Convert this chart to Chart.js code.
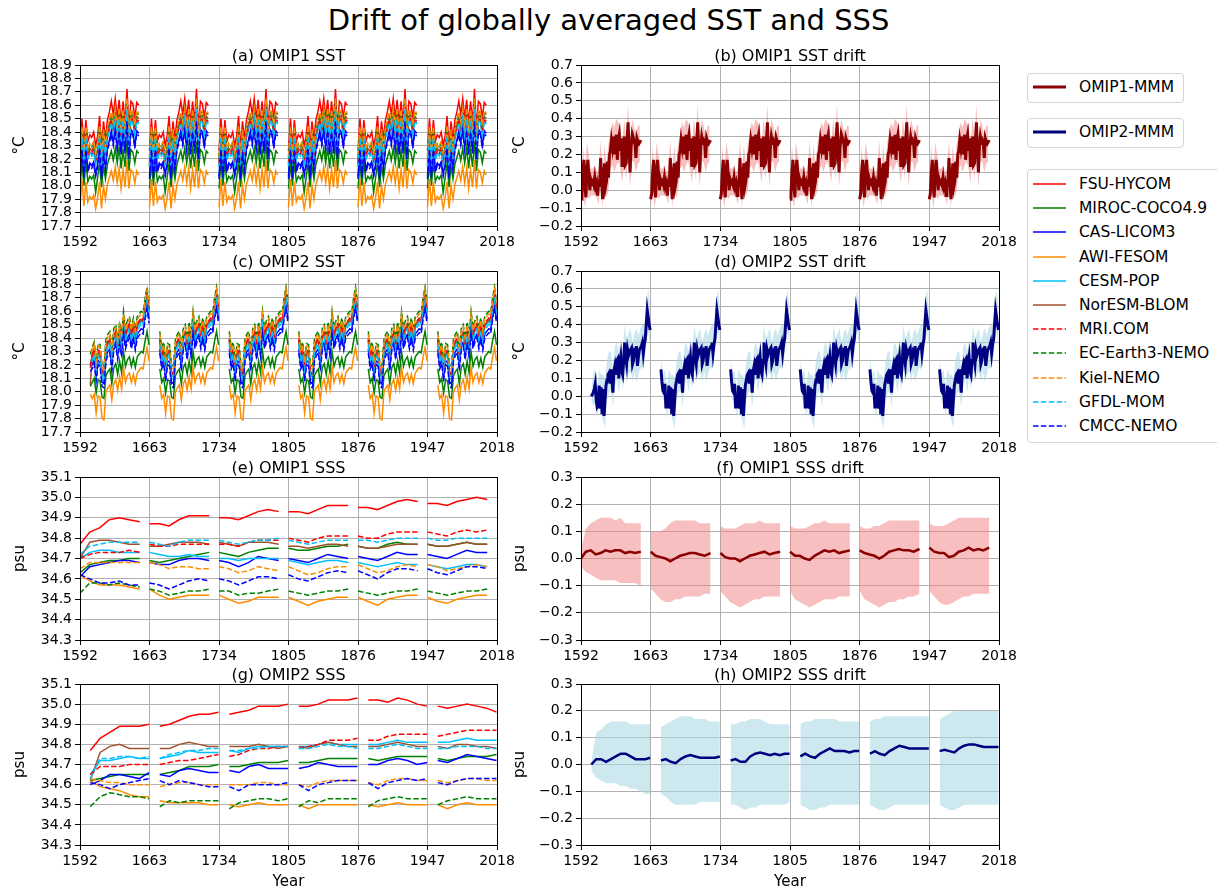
<!DOCTYPE html>
<html>
<head>
<meta charset="utf-8">
<script src="https://cdn.jsdelivr.net/npm/chart.js@4.4.1/dist/chart.umd.min.js"></script>
<style>
  body { margin: 0; background: #fff; width: 1217px; height: 892px; overflow: hidden; position: relative; font-family: "DejaVu Sans", sans-serif; }
  canvas { position: absolute; }
  #title { position: absolute; left: 0; top: 3px; width: 1217px; text-align: center; font-size: 29px; line-height: 34px; color: #000; }
  .lg { position: absolute; border: 1px solid #d4d4d4; border-radius: 4px; background: #fff; box-sizing: border-box; }
  .item { position: absolute; left: 0; height: 20px; width: 100%; font-size: 15.5px; line-height: 20px; color: #000; }
  .item svg { position: absolute; left: 5px; top: 0; }
  .item .t { position: absolute; left: 51px; top: 0; white-space: nowrap; }
</style>
</head>
<body>
<div id="title">Drift of globally averaged SST and SSS</div>
<div id="legends"></div>

<script>
// ====== Axes ======
const yearTicks = [1592, 1663, 1734, 1805, 1876, 1947, 2018];
const sstTicks = [17.7, 17.8, 17.9, 18.0, 18.1, 18.2, 18.3, 18.4, 18.5, 18.6, 18.7, 18.8, 18.9];
const sstDriftTicks = [-0.2, -0.1, 0.0, 0.1, 0.2, 0.3, 0.4, 0.5, 0.6, 0.7];
const sssTicks = [34.3, 34.4, 34.5, 34.6, 34.7, 34.8, 34.9, 35.0, 35.1];
const sssDriftTicks = [-0.3, -0.2, -0.1, 0.0, 0.1, 0.2, 0.3];

const models = ["FSU-HYCOM", "MIROC-COCO4.9", "CAS-LICOM3", "AWI-FESOM", "CESM-POP", "NorESM-BLOM",
                "MRI.COM", "EC-Earth3-NEMO", "Kiel-NEMO", "GFDL-MOM", "CMCC-NEMO"];

// start of each forcing cycle on the plot's year axis
const omip1Starts = [1592, 1663, 1734, 1805, 1876, 1947];
const omip2Starts = [1602.5, 1673.5, 1744.5, 1815.5, 1886.5, 1957.5];

// years inside one cycle
const annual1 = Array.from({ length: 62 }, (_, i) => i);
const annual2 = Array.from({ length: 61 }, (_, i) => i);
const everyTwo = [0, 2, 4, 6, 8, 10, 12, 14, 16, 18, 20, 22, 24, 26, 28, 30, 32, 34, 36, 38, 40, 42, 44, 46, 48, 50, 52, 54, 56, 58, 60];
const sss1Years = [0, 10, 20, 30, 40, 50, 61];
const sss2Years = [0, 10, 20, 30, 40, 50, 60];
const sssDrift1Years = [0, 5, 10, 15, 20, 25, 30, 35, 40, 45, 50, 55, 61];
const sssDrift2Years = [0, 5, 10, 15, 20, 25, 30, 35, 40, 45, 50, 55, 60];

// ====== OMIP1 SST, one cycle (same in every cycle) ======
const sst1Fsu = [18.26, 18.50, 18.29, 18.49, 18.33, 18.38, 18.36, 18.40, 18.30, 18.37, 18.52, 18.28, 18.48, 18.35, 18.49, 18.55, 18.63, 18.53, 18.65, 18.50, 18.64, 18.46, 18.63, 18.47, 18.72, 18.43, 18.63, 18.61, 18.51, 18.62, 18.60];
const sst1Miroc = [17.98, 18.17, 18.00, 18.18, 18.03, 18.07, 18.05, 18.08, 17.95, 18.06, 18.17, 17.99, 18.15, 18.05, 18.16, 18.21, 18.26, 18.19, 18.28, 18.17, 18.29, 18.13, 18.27, 18.14, 18.33, 18.11, 18.27, 18.25, 18.17, 18.26, 18.24];
const sst1Cas = [18.07, 18.29, 18.08, 18.30, 18.12, 18.17, 18.15, 18.18, 18.09, 18.16, 18.30, 18.07, 18.27, 18.14, 18.28, 18.34, 18.41, 18.32, 18.43, 18.29, 18.44, 18.25, 18.42, 18.26, 18.50, 18.22, 18.42, 18.40, 18.30, 18.41, 18.39];
const sst1Awi = [17.84, 18.05, 17.85, 18.03, 17.88, 17.92, 17.90, 17.93, 17.83, 17.91, 18.03, 17.83, 18.00, 17.90, 18.01, 18.06, 18.11, 18.04, 18.14, 18.02, 18.13, 17.98, 18.12, 17.99, 18.19, 17.98, 18.12, 18.10, 18.02, 18.11, 18.08];
const sst1Cesm = [18.15, 18.37, 18.16, 18.37, 18.20, 18.25, 18.23, 18.26, 18.17, 18.24, 18.38, 18.15, 18.35, 18.22, 18.36, 18.42, 18.48, 18.40, 18.51, 18.37, 18.51, 18.33, 18.50, 18.34, 18.58, 18.30, 18.50, 18.48, 18.38, 18.49, 18.47];
const sst1Noresm = [18.18, 18.40, 18.19, 18.40, 18.23, 18.28, 18.26, 18.29, 18.20, 18.27, 18.41, 18.18, 18.38, 18.25, 18.39, 18.45, 18.51, 18.43, 18.54, 18.40, 18.54, 18.36, 18.53, 18.37, 18.61, 18.33, 18.53, 18.51, 18.41, 18.52, 18.50];
const sst1Mri = [18.16, 18.38, 18.17, 18.38, 18.21, 18.26, 18.24, 18.27, 18.18, 18.25, 18.39, 18.16, 18.36, 18.23, 18.37, 18.43, 18.49, 18.41, 18.52, 18.38, 18.52, 18.34, 18.51, 18.35, 18.59, 18.31, 18.51, 18.49, 18.39, 18.50, 18.48];
const sst1Ec = [18.21, 18.43, 18.22, 18.43, 18.26, 18.31, 18.29, 18.32, 18.23, 18.30, 18.44, 18.21, 18.41, 18.28, 18.42, 18.48, 18.54, 18.46, 18.57, 18.43, 18.57, 18.39, 18.56, 18.40, 18.64, 18.36, 18.56, 18.54, 18.44, 18.55, 18.53];
const sst1Kiel = [18.22, 18.44, 18.23, 18.44, 18.27, 18.32, 18.30, 18.33, 18.24, 18.31, 18.45, 18.22, 18.42, 18.29, 18.43, 18.49, 18.55, 18.47, 18.58, 18.44, 18.58, 18.40, 18.57, 18.41, 18.65, 18.37, 18.57, 18.55, 18.45, 18.56, 18.54];
const sst1Gfdl = [18.14, 18.36, 18.15, 18.36, 18.19, 18.24, 18.22, 18.25, 18.16, 18.23, 18.37, 18.14, 18.34, 18.21, 18.35, 18.41, 18.47, 18.39, 18.50, 18.36, 18.50, 18.32, 18.49, 18.33, 18.57, 18.29, 18.49, 18.47, 18.37, 18.48, 18.46];
const sst1Cmcc = [18.05, 18.27, 18.06, 18.27, 18.10, 18.15, 18.13, 18.16, 18.07, 18.14, 18.28, 18.05, 18.25, 18.12, 18.26, 18.32, 18.38, 18.30, 18.41, 18.27, 18.41, 18.23, 18.40, 18.24, 18.48, 18.20, 18.40, 18.38, 18.28, 18.39, 18.37];

// ====== OMIP2 SST, one cycle; first cycle starts at sst2Spinup ======
const sst2Fsu = [18.38, 18.26, 18.30, 18.17, 18.29, 18.28, 18.13, 18.12, 18.32, 18.36, 18.38, 18.25, 18.40, 18.43, 18.33, 18.45, 18.35, 18.53, 18.41, 18.46, 18.49, 18.41, 18.48, 18.40, 18.49, 18.51, 18.53, 18.52, 18.63, 18.71, 18.60];
const sst2Miroc = [18.17, 18.07, 18.10, 17.99, 18.09, 18.08, 17.96, 17.95, 18.12, 18.15, 18.17, 18.06, 18.18, 18.21, 18.13, 18.23, 18.14, 18.30, 18.19, 18.24, 18.26, 18.19, 18.25, 18.18, 18.26, 18.28, 18.30, 18.29, 18.38, 18.45, 18.35];
const sst2Cas = [18.32, 18.20, 18.24, 18.11, 18.23, 18.22, 18.07, 18.06, 18.26, 18.30, 18.32, 18.19, 18.34, 18.37, 18.27, 18.39, 18.29, 18.47, 18.35, 18.40, 18.43, 18.35, 18.42, 18.34, 18.43, 18.45, 18.47, 18.46, 18.57, 18.65, 18.54];
const sst2Awi = [18.05, 17.95, 17.98, 17.84, 17.97, 17.96, 17.80, 17.79, 18.00, 18.03, 18.05, 17.94, 18.06, 18.09, 18.01, 18.11, 18.02, 18.18, 18.07, 18.12, 18.14, 18.07, 18.13, 18.06, 18.14, 18.16, 18.18, 18.17, 18.26, 18.33, 18.23];
const sst2Cesm = [18.37, 18.25, 18.29, 18.16, 18.28, 18.27, 18.12, 18.11, 18.31, 18.35, 18.37, 18.24, 18.39, 18.42, 18.32, 18.44, 18.34, 18.52, 18.40, 18.45, 18.48, 18.40, 18.47, 18.39, 18.48, 18.50, 18.52, 18.51, 18.62, 18.70, 18.59];
const sst2Noresm = [18.39, 18.27, 18.31, 18.18, 18.30, 18.29, 18.14, 18.13, 18.33, 18.37, 18.39, 18.26, 18.41, 18.44, 18.34, 18.46, 18.36, 18.54, 18.42, 18.47, 18.50, 18.42, 18.49, 18.41, 18.50, 18.52, 18.54, 18.53, 18.64, 18.72, 18.61];
const sst2Mri = [18.40, 18.28, 18.32, 18.19, 18.31, 18.30, 18.15, 18.14, 18.34, 18.38, 18.40, 18.27, 18.42, 18.45, 18.35, 18.47, 18.37, 18.55, 18.43, 18.48, 18.51, 18.43, 18.50, 18.42, 18.51, 18.53, 18.55, 18.54, 18.65, 18.73, 18.62];
const sst2Ec = [18.45, 18.33, 18.37, 18.24, 18.36, 18.35, 18.20, 18.19, 18.39, 18.43, 18.45, 18.32, 18.47, 18.50, 18.40, 18.52, 18.42, 18.60, 18.48, 18.53, 18.56, 18.48, 18.55, 18.47, 18.56, 18.58, 18.60, 18.59, 18.70, 18.78, 18.67];
const sst2Kiel = [18.43, 18.31, 18.35, 18.22, 18.34, 18.33, 18.18, 18.17, 18.37, 18.41, 18.43, 18.30, 18.45, 18.48, 18.38, 18.50, 18.40, 18.58, 18.46, 18.51, 18.54, 18.46, 18.53, 18.45, 18.54, 18.56, 18.58, 18.57, 18.68, 18.76, 18.65];
const sst2Gfdl = [18.35, 18.23, 18.27, 18.14, 18.26, 18.25, 18.10, 18.09, 18.29, 18.33, 18.35, 18.22, 18.37, 18.40, 18.30, 18.42, 18.32, 18.50, 18.38, 18.43, 18.46, 18.38, 18.45, 18.37, 18.46, 18.48, 18.50, 18.49, 18.60, 18.68, 18.57];
const sst2Cmcc = [18.29, 18.17, 18.21, 18.08, 18.20, 18.19, 18.04, 18.03, 18.23, 18.27, 18.29, 18.16, 18.31, 18.34, 18.24, 18.36, 18.26, 18.44, 18.32, 18.37, 18.40, 18.32, 18.39, 18.31, 18.40, 18.42, 18.44, 18.43, 18.54, 18.62, 18.51];
const sst2Spinup = [18.18, 18.04, 18.20, 17.98, 18.22, 18.05, 18.20, 18.28, 18.30, 18.23, 18.15];

// ====== SST drift, multi-model mean and spread ======
const mmm1Sst = [-0.05, -0.02, 0.10, 0.17, 0.02, -0.04, 0.12, 0.17, 0.08, 0.00, 0.06, 0.04, 0.05, 0.03, 0.07, 0.02, 0.04, -0.03, 0.06, 0.02,
  0.18, 0.05, -0.05, 0.08, 0.15, 0.02, 0.05, 0.16, 0.07, 0.20, 0.22, 0.28, 0.24, 0.30, 0.20, 0.27, 0.31, 0.17, 0.28, 0.31,
  0.22, 0.29, 0.13, 0.22, 0.30, 0.14, 0.15, 0.28, 0.38, 0.22, 0.10, 0.24, 0.30, 0.27, 0.28, 0.26, 0.18, 0.29, 0.27, 0.26, 0.27, 0.28];
const mmm1SstHi = [0.02, 0.25, 0.10, 0.27, 0.20, 0.12, 0.12, 0.14, 0.10, 0.12, 0.28, 0.10, 0.25, 0.14, 0.26, 0.32, 0.38, 0.35, 0.40, 0.38, 0.36, 0.25, 0.40, 0.30, 0.48, 0.22, 0.40, 0.36, 0.30, 0.36, 0.36];
const mmm1SstLo = [-0.10, 0.00, -0.10, -0.02, -0.05, -0.03, -0.03, -0.03, -0.04, -0.08, 0.05, -0.10, 0.04, -0.04, 0.00, 0.12, 0.14, 0.10, 0.14, 0.16, 0.12, 0.04, 0.18, 0.06, 0.20, 0.02, 0.16, 0.16, 0.10, 0.15, 0.16];

const mmm2Sst = [0.15, 0.08, 0.03, 0.02, 0.07, -0.06, -0.06, -0.05, 0.06, -0.07, 0.05, -0.10, 0.04, -0.11, -0.02, 0.06, 0.09, 0.12, 0.13, 0.07,
  0.15, 0.10, 0.02, 0.14, 0.17, 0.12, 0.20, 0.21, 0.10, 0.18, 0.22, 0.14, 0.12, 0.20, 0.30, 0.22, 0.18, 0.26, 0.23, 0.25,
  0.26, 0.27, 0.18, 0.20, 0.25, 0.24, 0.28, 0.17, 0.22, 0.26, 0.27, 0.28, 0.30, 0.24, 0.29, 0.32, 0.40, 0.48, 0.44, 0.40, 0.37];
const mmm2SstSpinup = [0.00, 0.01, 0.02, 0.04, 0.07, -0.02];
const mmm2SstHi = [0.22, 0.12, 0.15, 0.05, 0.15, 0.12, 0.12, 0.10, 0.20, 0.25, 0.25, 0.15, 0.28, 0.30, 0.25, 0.32, 0.25, 0.40, 0.32, 0.35, 0.38, 0.30, 0.35, 0.38, 0.34, 0.38, 0.40, 0.40, 0.52, 0.60, 0.50];
const mmm2SstLo = [0.08, -0.02, -0.03, -0.12, -0.05, -0.10, -0.14, -0.18, -0.02, 0.02, 0.03, -0.06, 0.05, 0.10, 0.02, 0.10, 0.04, 0.15, 0.08, 0.12, 0.14, 0.08, 0.14, 0.08, 0.12, 0.16, 0.15, 0.18, 0.28, 0.36, 0.28];
const mmm2SstSpinupHi = [0.04, 0.12, 0.16];
const mmm2SstSpinupLo = [-0.03, -0.05, -0.04];

// ====== OMIP1 SSS, one row per cycle ======
const sss1Fsu = [[34.77, 34.83, 34.85, 34.89, 34.90, 34.89, 34.88], [34.87, 34.87, 34.86, 34.89, 34.91, 34.91, 34.91], [34.90, 34.90, 34.89, 34.91, 34.93, 34.94, 34.93],
  [34.93, 34.93, 34.92, 34.94, 34.96, 34.96, 34.96], [34.95, 34.95, 34.94, 34.96, 34.98, 34.99, 34.98], [34.97, 34.97, 34.96, 34.98, 34.99, 35.00, 34.99]];
const sss1Miroc = [[34.63, 34.67, 34.68, 34.69, 34.69, 34.70, 34.70], [34.69, 34.68, 34.69, 34.70, 34.71, 34.72, 34.73], [34.73, 34.72, 34.71, 34.73, 34.74, 34.75, 34.75],
  [34.75, 34.74, 34.74, 34.75, 34.76, 34.76, 34.77], [34.76, 34.75, 34.75, 34.77, 34.78, 34.77, 34.77], [34.77, 34.76, 34.76, 34.77, 34.78, 34.77, 34.77]];
const sss1Cas = [[34.61, 34.66, 34.67, 34.68, 34.69, 34.69, 34.68], [34.68, 34.67, 34.67, 34.69, 34.70, 34.70, 34.69], [34.69, 34.68, 34.66, 34.68, 34.71, 34.70, 34.69],
  [34.70, 34.69, 34.68, 34.70, 34.72, 34.71, 34.70], [34.71, 34.70, 34.69, 34.71, 34.73, 34.72, 34.72], [34.72, 34.71, 34.70, 34.72, 34.74, 34.73, 34.73]];
const sss1Awi = [[34.62, 34.59, 34.57, 34.57, 34.57, 34.56, 34.55], [34.55, 34.52, 34.50, 34.51, 34.52, 34.52, 34.52], [34.52, 34.50, 34.48, 34.49, 34.51, 34.51, 34.51],
  [34.51, 34.49, 34.47, 34.49, 34.50, 34.51, 34.51], [34.51, 34.49, 34.47, 34.50, 34.51, 34.52, 34.52], [34.51, 34.49, 34.48, 34.50, 34.51, 34.52, 34.52]];
const sss1Cesm = [[34.70, 34.73, 34.74, 34.74, 34.73, 34.73, 34.73], [34.73, 34.72, 34.71, 34.71, 34.72, 34.71, 34.71], [34.70, 34.70, 34.69, 34.70, 34.70, 34.70, 34.70],
  [34.69, 34.68, 34.67, 34.68, 34.69, 34.69, 34.68], [34.68, 34.67, 34.66, 34.67, 34.68, 34.67, 34.67], [34.67, 34.66, 34.65, 34.66, 34.67, 34.67, 34.66]];
const sss1Noresm = [[34.70, 34.78, 34.79, 34.79, 34.78, 34.77, 34.77], [34.76, 34.76, 34.77, 34.78, 34.78, 34.78, 34.77], [34.78, 34.77, 34.76, 34.78, 34.78, 34.78, 34.77],
  [34.76, 34.76, 34.75, 34.76, 34.77, 34.77, 34.76], [34.76, 34.75, 34.75, 34.76, 34.77, 34.77, 34.77], [34.77, 34.76, 34.76, 34.77, 34.78, 34.77, 34.77]];
const sss1Mri = [[34.70, 34.72, 34.73, 34.73, 34.73, 34.74, 34.73], [34.77, 34.76, 34.76, 34.77, 34.77, 34.77, 34.77], [34.77, 34.77, 34.76, 34.78, 34.79, 34.79, 34.79],
  [34.80, 34.79, 34.78, 34.80, 34.81, 34.81, 34.81], [34.81, 34.80, 34.80, 34.82, 34.83, 34.83, 34.83], [34.83, 34.82, 34.81, 34.83, 34.84, 34.83, 34.84]];
const sss1Ec = [[34.53, 34.58, 34.58, 34.57, 34.58, 34.57, 34.56], [34.55, 34.54, 34.52, 34.53, 34.54, 34.54, 34.55], [34.54, 34.54, 34.52, 34.53, 34.53, 34.54, 34.55],
  [34.54, 34.53, 34.52, 34.53, 34.54, 34.54, 34.55], [34.54, 34.53, 34.52, 34.53, 34.54, 34.54, 34.55], [34.54, 34.53, 34.52, 34.53, 34.54, 34.54, 34.55]];
const sss1Kiel = [[34.65, 34.68, 34.68, 34.68, 34.68, 34.68, 34.68], [34.68, 34.67, 34.65, 34.66, 34.66, 34.65, 34.65], [34.66, 34.65, 34.63, 34.64, 34.66, 34.65, 34.64],
  [34.66, 34.64, 34.62, 34.63, 34.65, 34.66, 34.66], [34.67, 34.65, 34.63, 34.64, 34.66, 34.67, 34.66], [34.67, 34.66, 34.64, 34.65, 34.66, 34.67, 34.66]];
const sss1Gfdl = [[34.72, 34.76, 34.77, 34.78, 34.78, 34.78, 34.78], [34.78, 34.77, 34.76, 34.78, 34.79, 34.79, 34.79], [34.79, 34.78, 34.77, 34.78, 34.79, 34.79, 34.80],
  [34.79, 34.78, 34.77, 34.78, 34.79, 34.79, 34.79], [34.79, 34.79, 34.78, 34.79, 34.80, 34.80, 34.80], [34.80, 34.79, 34.79, 34.80, 34.80, 34.80, 34.80]];
const sss1Cmcc = [[34.62, 34.60, 34.58, 34.58, 34.59, 34.57, 34.57], [34.58, 34.57, 34.55, 34.57, 34.59, 34.60, 34.59], [34.60, 34.59, 34.57, 34.59, 34.61, 34.61, 34.60],
  [34.62, 34.60, 34.59, 34.61, 34.63, 34.64, 34.63], [34.64, 34.62, 34.60, 34.63, 34.65, 34.65, 34.64], [34.65, 34.63, 34.62, 34.64, 34.66, 34.66, 34.65]];

// ====== OMIP2 SSS, one row per cycle ======
const sss2Fsu = [[34.77, 34.83, 34.86, 34.89, 34.89, 34.89, 34.90], [34.89, 34.90, 34.92, 34.94, 34.95, 34.95, 34.96], [34.95, 34.96, 34.97, 34.99, 34.99, 34.99, 35.00],
  [34.99, 34.99, 35.00, 35.02, 35.02, 35.02, 35.03], [35.02, 35.02, 35.01, 35.03, 35.02, 35.00, 34.99], [34.99, 34.98, 34.99, 35.00, 34.99, 34.98, 34.96]];
const sss2Miroc = [[34.62, 34.63, 34.64, 34.65, 34.65, 34.65, 34.65], [34.65, 34.66, 34.67, 34.69, 34.69, 34.69, 34.70], [34.69, 34.69, 34.70, 34.71, 34.71, 34.71, 34.72],
  [34.71, 34.71, 34.72, 34.73, 34.73, 34.73, 34.73], [34.73, 34.72, 34.73, 34.74, 34.74, 34.74, 34.74], [34.73, 34.72, 34.73, 34.74, 34.74, 34.74, 34.75]];
const sss2Cas = [[34.60, 34.62, 34.65, 34.65, 34.64, 34.63, 34.66], [34.65, 34.64, 34.67, 34.68, 34.67, 34.66, 34.66], [34.67, 34.66, 34.69, 34.70, 34.68, 34.68, 34.68],
  [34.68, 34.69, 34.71, 34.70, 34.69, 34.69, 34.69], [34.70, 34.70, 34.72, 34.73, 34.72, 34.70, 34.71], [34.72, 34.71, 34.73, 34.75, 34.74, 34.73, 34.72]];
const sss2Awi = [[34.62, 34.59, 34.58, 34.57, 34.55, 34.54, 34.54], [34.52, 34.51, 34.51, 34.51, 34.51, 34.50, 34.50], [34.50, 34.49, 34.50, 34.51, 34.50, 34.50, 34.50],
  [34.50, 34.48, 34.50, 34.50, 34.50, 34.50, 34.50], [34.50, 34.49, 34.50, 34.51, 34.50, 34.50, 34.50], [34.50, 34.48, 34.50, 34.51, 34.50, 34.50, 34.50]];
const sss2Cesm = [[34.65, 34.72, 34.72, 34.73, 34.74, 34.73, 34.73], [34.73, 34.74, 34.75, 34.77, 34.76, 34.76, 34.76], [34.77, 34.76, 34.78, 34.79, 34.79, 34.79, 34.79],
  [34.79, 34.79, 34.80, 34.81, 34.80, 34.80, 34.80], [34.80, 34.80, 34.81, 34.82, 34.81, 34.81, 34.81], [34.81, 34.81, 34.82, 34.83, 34.82, 34.82, 34.82]];
const sss2Noresm = [[34.62, 34.76, 34.79, 34.80, 34.78, 34.78, 34.78], [34.78, 34.78, 34.80, 34.81, 34.80, 34.79, 34.79], [34.79, 34.79, 34.79, 34.80, 34.79, 34.78, 34.79],
  [34.79, 34.78, 34.80, 34.81, 34.80, 34.79, 34.79], [34.79, 34.79, 34.80, 34.81, 34.80, 34.79, 34.79], [34.79, 34.78, 34.80, 34.80, 34.79, 34.79, 34.78]];
const sss2Mri = [[34.65, 34.69, 34.69, 34.69, 34.70, 34.70, 34.70], [34.70, 34.71, 34.72, 34.72, 34.73, 34.74, 34.75], [34.74, 34.75, 34.77, 34.78, 34.78, 34.79, 34.79],
  [34.78, 34.79, 34.80, 34.82, 34.82, 34.82, 34.83], [34.82, 34.82, 34.84, 34.85, 34.85, 34.85, 34.85], [34.84, 34.85, 34.86, 34.87, 34.87, 34.87, 34.87]];
const sss2Ec = [[34.49, 34.54, 34.56, 34.55, 34.54, 34.54, 34.53], [34.49, 34.52, 34.51, 34.52, 34.52, 34.52, 34.52], [34.48, 34.51, 34.52, 34.53, 34.53, 34.52, 34.53],
  [34.49, 34.52, 34.51, 34.53, 34.53, 34.53, 34.53], [34.49, 34.52, 34.53, 34.54, 34.53, 34.53, 34.53], [34.50, 34.52, 34.53, 34.54, 34.53, 34.53, 34.53]];
const sss2Kiel = [[34.63, 34.62, 34.61, 34.61, 34.60, 34.60, 34.60], [34.59, 34.60, 34.61, 34.61, 34.60, 34.60, 34.60], [34.60, 34.60, 34.60, 34.61, 34.61, 34.60, 34.60],
  [34.60, 34.59, 34.61, 34.62, 34.62, 34.62, 34.62], [34.61, 34.60, 34.62, 34.63, 34.63, 34.62, 34.62], [34.62, 34.61, 34.62, 34.63, 34.63, 34.62, 34.62]];
const sss2Gfdl = [[34.63, 34.73, 34.73, 34.74, 34.74, 34.73, 34.74], [34.73, 34.75, 34.76, 34.77, 34.77, 34.78, 34.78], [34.77, 34.77, 34.78, 34.78, 34.79, 34.79, 34.79],
  [34.78, 34.78, 34.79, 34.80, 34.79, 34.79, 34.78], [34.78, 34.78, 34.79, 34.80, 34.79, 34.78, 34.78], [34.78, 34.78, 34.79, 34.79, 34.79, 34.78, 34.78]];
const sss2Cmcc = [[34.61, 34.60, 34.58, 34.60, 34.61, 34.62, 34.63], [34.62, 34.60, 34.62, 34.61, 34.60, 34.59, 34.59], [34.59, 34.57, 34.60, 34.60, 34.60, 34.60, 34.61],
  [34.60, 34.57, 34.60, 34.61, 34.62, 34.62, 34.62], [34.61, 34.58, 34.61, 34.62, 34.63, 34.62, 34.63], [34.61, 34.60, 34.62, 34.63, 34.63, 34.63, 34.63]];

// ====== SSS drift, multi-model mean and spread, one row per cycle ======
const mmm1Sss = [[0.00, 0.025, 0.03, 0.015, 0.02, 0.03, 0.025, 0.03, 0.03, 0.02, 0.025, 0.02, 0.025],
  [0.025, 0.01, 0.005, 0.00, -0.01, 0.00, 0.01, 0.015, 0.02, 0.02, 0.015, 0.01, 0.02],
  [0.02, 0.005, 0.00, 0.00, -0.01, 0.00, 0.01, 0.015, 0.02, 0.025, 0.015, 0.02, 0.025],
  [0.025, 0.01, 0.01, 0.00, -0.005, 0.01, 0.02, 0.03, 0.025, 0.03, 0.02, 0.025, 0.03],
  [0.03, 0.02, 0.015, 0.01, 0.00, 0.01, 0.025, 0.03, 0.035, 0.03, 0.03, 0.025, 0.035],
  [0.04, 0.025, 0.02, 0.02, 0.005, 0.01, 0.025, 0.03, 0.04, 0.03, 0.035, 0.03, 0.04]];
const mmm1SssHi = [[0.03, 0.11, 0.13, 0.14, 0.15, 0.15, 0.15, 0.14, 0.15, 0.13, 0.13, 0.13, 0.13],
  [0.10, 0.10, 0.10, 0.11, 0.13, 0.14, 0.14, 0.14, 0.14, 0.14, 0.13, 0.13, 0.13],
  [0.12, 0.11, 0.11, 0.11, 0.12, 0.13, 0.13, 0.13, 0.14, 0.13, 0.13, 0.13, 0.13],
  [0.12, 0.11, 0.11, 0.11, 0.12, 0.13, 0.13, 0.14, 0.13, 0.13, 0.13, 0.13, 0.13],
  [0.12, 0.11, 0.11, 0.12, 0.12, 0.13, 0.14, 0.14, 0.14, 0.14, 0.14, 0.14, 0.14],
  [0.13, 0.12, 0.12, 0.12, 0.13, 0.14, 0.15, 0.15, 0.15, 0.15, 0.15, 0.15, 0.15]];
const mmm1SssLo = [[-0.03, -0.05, -0.06, -0.07, -0.08, -0.08, -0.08, -0.08, -0.09, -0.09, -0.09, -0.09, -0.10],
  [-0.11, -0.13, -0.15, -0.16, -0.16, -0.15, -0.15, -0.14, -0.14, -0.14, -0.14, -0.13, -0.13],
  [-0.12, -0.14, -0.16, -0.17, -0.18, -0.17, -0.16, -0.15, -0.15, -0.14, -0.14, -0.14, -0.14],
  [-0.12, -0.15, -0.16, -0.17, -0.18, -0.17, -0.16, -0.15, -0.15, -0.15, -0.14, -0.14, -0.14],
  [-0.12, -0.15, -0.16, -0.17, -0.18, -0.17, -0.16, -0.16, -0.15, -0.15, -0.14, -0.14, -0.13],
  [-0.12, -0.14, -0.16, -0.17, -0.17, -0.16, -0.15, -0.14, -0.14, -0.13, -0.13, -0.13, -0.13]];

const mmm2Sss = [[0.00, 0.02, 0.02, 0.01, 0.02, 0.03, 0.04, 0.04, 0.03, 0.02, 0.02, 0.02, 0.025],
  [0.015, 0.02, 0.01, 0.005, 0.02, 0.03, 0.035, 0.03, 0.025, 0.025, 0.025, 0.025, 0.03],
  [0.015, 0.02, 0.01, 0.01, 0.03, 0.04, 0.045, 0.04, 0.035, 0.04, 0.035, 0.04, 0.04],
  [0.03, 0.04, 0.03, 0.025, 0.04, 0.05, 0.06, 0.05, 0.05, 0.05, 0.045, 0.05, 0.05],
  [0.04, 0.05, 0.04, 0.035, 0.05, 0.06, 0.07, 0.065, 0.06, 0.06, 0.06, 0.06, 0.06],
  [0.05, 0.055, 0.05, 0.045, 0.06, 0.07, 0.075, 0.075, 0.07, 0.065, 0.065, 0.065, 0.065]];
const mmm2SssHi = [[0.01, 0.12, 0.13, 0.15, 0.16, 0.16, 0.16, 0.16, 0.15, 0.15, 0.15, 0.15, 0.15],
  [0.14, 0.15, 0.16, 0.17, 0.18, 0.18, 0.18, 0.17, 0.17, 0.17, 0.16, 0.16, 0.16],
  [0.15, 0.15, 0.16, 0.16, 0.17, 0.17, 0.17, 0.16, 0.15, 0.15, 0.15, 0.15, 0.15],
  [0.15, 0.16, 0.16, 0.17, 0.17, 0.17, 0.17, 0.17, 0.16, 0.16, 0.16, 0.16, 0.16],
  [0.16, 0.17, 0.17, 0.18, 0.18, 0.18, 0.18, 0.18, 0.18, 0.18, 0.18, 0.18, 0.18],
  [0.17, 0.18, 0.19, 0.20, 0.20, 0.20, 0.20, 0.20, 0.20, 0.20, 0.20, 0.20, 0.20]];
const mmm2SssLo = [[-0.02, -0.05, -0.06, -0.07, -0.07, -0.07, -0.08, -0.08, -0.09, -0.09, -0.10, -0.11, -0.11],
  [-0.11, -0.12, -0.14, -0.15, -0.15, -0.15, -0.15, -0.15, -0.14, -0.14, -0.14, -0.14, -0.14],
  [-0.15, -0.15, -0.16, -0.17, -0.16, -0.16, -0.15, -0.15, -0.15, -0.15, -0.15, -0.15, -0.14],
  [-0.15, -0.16, -0.17, -0.17, -0.16, -0.16, -0.15, -0.15, -0.15, -0.15, -0.15, -0.15, -0.15],
  [-0.15, -0.16, -0.17, -0.17, -0.16, -0.15, -0.15, -0.15, -0.15, -0.15, -0.15, -0.15, -0.15],
  [-0.15, -0.16, -0.17, -0.17, -0.16, -0.15, -0.15, -0.15, -0.15, -0.15, -0.15, -0.15, -0.15]];

// ====== Styles ======
const FONT = "'DejaVu Sans', sans-serif";
const modelColors = ["#ff0000", "#008000", "#0000ff", "#ff8c00", "#00bfff", "#a0522d",
                     "#ff0000", "#008000", "#ff8c00", "#00bfff", "#0000ff"];
const modelDashed = [false, false, false, false, false, false, true, true, true, true, true];
const omip1Color = "#8b0000";
const omip2Color = "#000080";
const omip1Band = "rgba(240,128,128,0.5)";
const omip2Band = "rgba(173,216,230,0.6)";

// ====== Helpers ======
function cyclePoints(starts, offsets, valuesFor) {
    const pts = [];
    starts.forEach((s, k) => {
        const vals = valuesFor(k);
        offsets.forEach((o, i) => pts.push({ x: s + o, y: vals[i] }));
        pts.push({ x: s + offsets[offsets.length - 1] + 1, y: null });
    });
    return pts;
}

function modelSets(series, starts, offsets, valuesFor) {
    return series.map((arr, m) => ({
        data: cyclePoints(starts, offsets, k => valuesFor(arr, k, m)),
        borderColor: modelColors[m],
        borderWidth: 1.5,
        borderDash: modelDashed[m] ? [5.5, 2.4] : [],
        pointRadius: 0,
        fill: false,
        spanGaps: false,
        order: series.length - m,
    }));
}

function bandSets(starts, offsets, hiFor, loFor, color) {
    const sets = [];
    starts.forEach((s, k) => {
        const hi = hiFor(k), lo = loFor(k);
        sets.push({ data: offsets.map((o, i) => ({ x: s + o, y: hi[i] })), borderColor: "rgba(0,0,0,0)", borderWidth: 0, pointRadius: 0, fill: false, order: 50 });
        sets.push({ data: offsets.map((o, i) => ({ x: s + o, y: lo[i] })), borderColor: "rgba(0,0,0,0)", borderWidth: 0, pointRadius: 0, fill: "-1", backgroundColor: color, order: 50 });
    });
    return sets;
}

function mmmSet(starts, offsets, valuesFor, color, width) {
    return { data: cyclePoints(starts, offsets, valuesFor), borderColor: color, borderWidth: width, pointRadius: 0, fill: false, spanGaps: false, order: 0 };
}

const fmt = v => (v < -1e-9 ? "\u2212" : "") + Math.abs(v).toFixed(1);

// frame around each axes, like matplotlib spines
const frame = {
    id: "frame",
    afterDatasetsDraw(chart) {
        const { ctx, chartArea: a } = chart;
        ctx.save();
        ctx.strokeStyle = "#000";
        ctx.lineWidth = 1;
        ctx.strokeRect(a.left + 0.5, a.top + 0.5, a.right - a.left, a.bottom - a.top);
        ctx.restore();
    },
};

// ====== Layout ======
const colX = [80, 581];
const colW = [417, 418];
const axisW = [69, 70];
const rowY = [65, 271, 477, 684];
const rowH = [161, 161, 163, 161];

function makePanel(col, row, title, yTitle, yTicks, datasets, xTitle) {
    const xH = xTitle ? 47 : 22;
    const padRight = 24;
    const canvas = document.createElement("canvas");
    const w = axisW[col] + colW[col] + padRight;
    const h = 24 + rowH[row] + xH;
    canvas.width = w;
    canvas.height = h;
    canvas.style.left = (colX[col] - axisW[col]) + "px";
    canvas.style.top = (rowY[row] - 24) + "px";
    document.body.appendChild(canvas);

    const gridOpts = { color: "#b0b0b0", lineWidth: 1, tickLength: 5, tickColor: "#000", tickWidth: 1 };
    new Chart(canvas, {
        type: "line",
        data: { datasets },
        plugins: [frame],
        options: {
            responsive: false,
            animation: false,
            events: [],
            layout: { padding: { left: 0, right: padRight, top: 0, bottom: 0 } },
            plugins: {
                legend: { display: false },
                tooltip: { enabled: false },
                title: {
                    display: true, fullSize: false, text: title, color: "#000",
                    font: { family: FONT, size: 16, weight: "normal", lineHeight: 1 },
                    padding: { top: 8, bottom: 0 },
                },
            },
            scales: {
                x: {
                    type: "linear", min: yearTicks[0], max: yearTicks[yearTicks.length - 1],
                    afterBuildTicks: s => { s.ticks = yearTicks.map(v => ({ value: v })); },
                    afterFit: s => { s.height = xH; },
                    ticks: { color: "#000", font: { family: FONT, size: 14 }, padding: 3, maxRotation: 0, autoSkip: false, callback: v => String(v) },
                    grid: gridOpts,
                    border: { display: false },
                    title: { display: !!xTitle, text: xTitle || "", color: "#000", font: { family: FONT, size: 15 }, padding: { top: 0, bottom: 1 } },
                },
                y: {
                    min: yTicks[0], max: yTicks[yTicks.length - 1],
                    afterBuildTicks: s => { s.ticks = yTicks.map(v => ({ value: v })); },
                    afterFit: s => { s.width = axisW[col]; },
                    ticks: { color: "#000", font: { family: FONT, size: 14 }, padding: 3, autoSkip: false, callback: fmt },
                    grid: gridOpts,
                    border: { display: false },
                    title: { display: true, text: yTitle, color: "#000", font: { family: FONT, size: 15 }, padding: 0 },
                },
            },
        },
    });
}

// ====== Panels ======
const sst1Series = [sst1Fsu, sst1Miroc, sst1Cas, sst1Awi, sst1Cesm, sst1Noresm, sst1Mri, sst1Ec, sst1Kiel, sst1Gfdl, sst1Cmcc];
const sst2Series = [sst2Fsu, sst2Miroc, sst2Cas, sst2Awi, sst2Cesm, sst2Noresm, sst2Mri, sst2Ec, sst2Kiel, sst2Gfdl, sst2Cmcc];
const sss1Series = [sss1Fsu, sss1Miroc, sss1Cas, sss1Awi, sss1Cesm, sss1Noresm, sss1Mri, sss1Ec, sss1Kiel, sss1Gfdl, sss1Cmcc];
const sss2Series = [sss2Fsu, sss2Miroc, sss2Cas, sss2Awi, sss2Cesm, sss2Noresm, sss2Mri, sss2Ec, sss2Kiel, sss2Gfdl, sss2Cmcc];

makePanel(0, 0, "(a) OMIP1 SST", "\u00b0C", sstTicks,
    modelSets(sst1Series, omip1Starts, everyTwo, arr => arr));

makePanel(1, 0, "(b) OMIP1 SST drift", "\u00b0C", sstDriftTicks, [
    mmmSet(omip1Starts, annual1, () => mmm1Sst, omip1Color, 3),
    ...bandSets(omip1Starts, everyTwo, () => mmm1SstHi, () => mmm1SstLo, omip1Band),
]);

makePanel(0, 1, "(c) OMIP2 SST", "\u00b0C", sstTicks,
    modelSets(sst2Series, omip2Starts, everyTwo, (arr, k, m) => k === 0 ? [sst2Spinup[m]].concat(arr.slice(1)) : arr));

makePanel(1, 1, "(d) OMIP2 SST drift", "\u00b0C", sstDriftTicks, [
    mmmSet(omip2Starts, annual2, k => k === 0 ? mmm2SstSpinup.concat(mmm2Sst.slice(6)) : mmm2Sst, omip2Color, 3),
    ...bandSets(omip2Starts, everyTwo,
        k => k === 0 ? mmm2SstSpinupHi.concat(mmm2SstHi.slice(3)) : mmm2SstHi,
        k => k === 0 ? mmm2SstSpinupLo.concat(mmm2SstLo.slice(3)) : mmm2SstLo, omip2Band),
]);

makePanel(0, 2, "(e) OMIP1 SSS", "psu", sssTicks,
    modelSets(sss1Series, omip1Starts, sss1Years, (arr, k) => arr[k]));

makePanel(1, 2, "(f) OMIP1 SSS drift", "psu", sssDriftTicks, [
    mmmSet(omip1Starts, sssDrift1Years, k => mmm1Sss[k], omip1Color, 2.5),
    ...bandSets(omip1Starts, sssDrift1Years, k => mmm1SssHi[k], k => mmm1SssLo[k], omip1Band),
]);

makePanel(0, 3, "(g) OMIP2 SSS", "psu", sssTicks,
    modelSets(sss2Series, omip2Starts, sss2Years, (arr, k) => arr[k]), "Year");

makePanel(1, 3, "(h) OMIP2 SSS drift", "psu", sssDriftTicks, [
    mmmSet(omip2Starts, sssDrift2Years, k => mmm2Sss[k], omip2Color, 2.5),
    ...bandSets(omip2Starts, sssDrift2Years, k => mmm2SssHi[k], k => mmm2SssLo[k], omip2Band),
], "Year");

// ====== Legends ======
const legendHost = document.getElementById("legends");
const SVGNS = "http://www.w3.org/2000/svg";
function legendBox(left, top, width, height, entries, firstY, stepY) {
    const box = document.createElement("div");
    box.className = "lg";
    Object.assign(box.style, { left: left + "px", top: top + "px", width: width + "px", height: height + "px" });
    entries.forEach((e, i) => {
        const row = document.createElement("div");
        row.className = "item";
        row.style.top = (firstY + i * stepY - 10) + "px";
        const svg = document.createElementNS(SVGNS, "svg");
        svg.setAttribute("width", "34");
        svg.setAttribute("height", "20");
        const ln = document.createElementNS(SVGNS, "line");
        ln.setAttribute("x1", "0"); ln.setAttribute("x2", "33");
        ln.setAttribute("y1", "10"); ln.setAttribute("y2", "10");
        ln.setAttribute("stroke", e.color);
        ln.setAttribute("stroke-width", String(e.width));
        if (e.dashed) ln.setAttribute("stroke-dasharray", "5.5 2.4");
        svg.appendChild(ln);
        const t = document.createElement("span");
        t.className = "t";
        t.textContent = e.label;
        row.appendChild(svg);
        row.appendChild(t);
        box.appendChild(row);
    });
    legendHost.appendChild(box);
}

legendBox(1027, 73, 157, 30, [{ label: "OMIP1-MMM", color: omip1Color, width: 3 }], 13, 0);
legendBox(1027, 118, 157, 30, [{ label: "OMIP2-MMM", color: omip2Color, width: 3 }], 13, 0);
legendBox(1027, 169, 200, 274,
    models.map((m, i) => ({ label: m, color: modelColors[i], width: 1.5, dashed: modelDashed[i] })), 14, 24.2);
</script>
</body>
</html>
